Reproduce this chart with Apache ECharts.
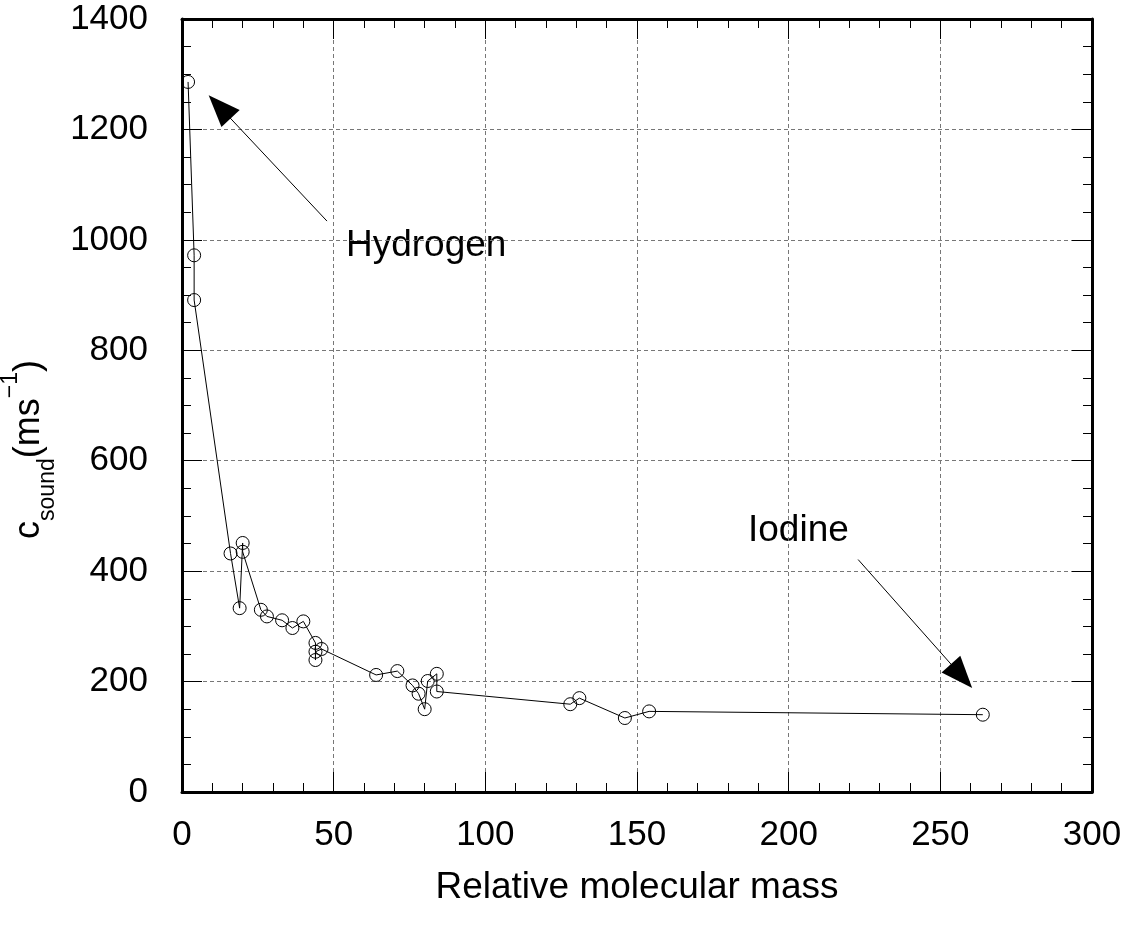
<!DOCTYPE html>
<html>
<head>
<meta charset="utf-8">
<script src="https://cdn.jsdelivr.net/npm/echarts@6/dist/echarts.min.js"></script>
<style>
html,body{margin:0;padding:0;background:#fff;}
#chart{width:1127px;height:926px;}
</style>
</head>
<body>
<div id="chart"></div>
<script>
// Relative molecular mass (x) and speed of sound (y, m/s)
const mass  = [2, 4, 4, 16, 19, 20, 20, 26, 28, 33, 36.4, 40, 44, 44, 44, 46, 64, 71, 76, 78, 80, 81, 84, 84, 128, 131, 146, 154, 264];
const speed = [1286, 972, 891, 432, 333, 451, 435, 330, 318, 311, 297, 309, 270, 239, 254, 259, 212, 219, 193, 178, 150, 201, 214, 182, 159, 170, 134, 146, 140];
const xTicks = [0, 50, 100, 150, 200, 250, 300];
const yTicks = [0, 200, 400, 600, 800, 1000, 1200, 1400];
// annotation arrows: [label, startX, startY, headCentreX, headCentreY]
const arrows = [
  ['Hydrogen', 47.8, 1034, 12.4, 1241],
  ['Iodine', 222.9, 421, 257.0, 210]
];

const FONT = '"Liberation Sans", Arial, Helvetica, sans-serif';
const chart = echarts.init(document.getElementById('chart'));

const baseAxis = {
  axisLine: {show: true, onZero: false, lineStyle: {color: '#000', width: 3}},
  axisTick: {show: true, inside: true, length: 20, lineStyle: {color: '#000', width: 1}},
  minorTick: {show: true, length: 9, lineStyle: {color: '#000', width: 1}}
};
const plain = v => String(v);

const pairs = mass.map((m, i) => [m, speed[i]]);

chart.setOption({
  animation: false,
  backgroundColor: '#fff',
  grid: {left: 182, top: 19, right: 35, bottom: 134, containLabel: false, outerBoundsMode: 'none'},
  xAxis: [
    Object.assign({}, baseAxis, {
      type: 'value', min: xTicks[0], max: xTicks[xTicks.length - 1], interval: 50,
      position: 'bottom',
      minorTick: Object.assign({}, baseAxis.minorTick, {splitNumber: 5}),
      axisLabel: {show: true, color: '#000', fontSize: 35, fontFamily: FONT, margin: 26, formatter: plain},
      splitLine: {show: true, lineStyle: {color: '#777', type: [4, 3], width: 1}},
      name: 'Relative molecular mass', nameLocation: 'middle', nameGap: 77,
      nameTextStyle: {color: '#000', fontSize: 37, fontFamily: FONT}
    }),
    Object.assign({}, baseAxis, {
      type: 'value', min: xTicks[0], max: xTicks[xTicks.length - 1], interval: 50,
      position: 'top',
      minorTick: Object.assign({}, baseAxis.minorTick, {splitNumber: 5}),
      axisLabel: {show: false}, splitLine: {show: false}
    })
  ],
  yAxis: [
    Object.assign({}, baseAxis, {
      type: 'value', min: yTicks[0], max: yTicks[yTicks.length - 1], interval: 200,
      position: 'left',
      minorTick: Object.assign({}, baseAxis.minorTick, {splitNumber: 4}),
      axisLabel: {show: true, color: '#000', fontSize: 35, fontFamily: FONT, margin: 34, formatter: plain},
      splitLine: {show: true, lineStyle: {color: '#777', type: [4, 3], width: 1}},
      name: '{c|c}{s|sound}{c|(ms}{u|\u22121}{c|)}',
      nameLocation: 'middle', nameGap: 121, nameRotate: 90,
      nameTextStyle: {
        color: '#000', fontFamily: FONT, fontSize: 36,
        padding: [0, 88, 0, 0],
        rich: {
          c: {fontSize: 36, fontFamily: FONT, color: '#000', lineHeight: 60, verticalAlign: 'middle'},
          s: {fontSize: 23, fontFamily: FONT, color: '#000', lineHeight: 60, verticalAlign: 'bottom'},
          u: {fontSize: 23, fontFamily: FONT, color: '#000', lineHeight: 60, verticalAlign: 'top'}
        }
      }
    }),
    Object.assign({}, baseAxis, {
      type: 'value', min: yTicks[0], max: yTicks[yTicks.length - 1], interval: 200,
      position: 'right',
      minorTick: Object.assign({}, baseAxis.minorTick, {splitNumber: 4}),
      axisLabel: {show: false}, splitLine: {show: false}
    })
  ],
  series: [
    {
      type: 'line',
      xAxisIndex: 0, yAxisIndex: 0,
      data: pairs,
      symbol: 'circle',
      symbolSize: 13,
      showSymbol: true,
      lineStyle: {color: '#000', width: 1},
      itemStyle: {color: 'rgba(0,0,0,0)', borderColor: '#000', borderWidth: 1},
      z: 3,
      markLine: {
        silent: true,
        symbol: ['none', 'triangle'],
        symbolSize: [25, 32],
        lineStyle: {color: '#000', width: 1, type: 'solid'},
        itemStyle: {color: '#000'},
        label: {show: false},
        data: arrows.map(a => [{coord: [a[1], a[2]]}, {coord: [a[3], a[4]]}])
      }
    }
  ],
  graphic: [
    {type: 'text', left: 346, top: 227, style: {text: arrows[0][0], fontSize: 37, fontFamily: FONT, fill: '#000'}},
    {type: 'text', left: 748, top: 512, style: {text: arrows[1][0], fontSize: 37, fontFamily: FONT, fill: '#000'}}
  ]
});
</script>
</body>
</html>
